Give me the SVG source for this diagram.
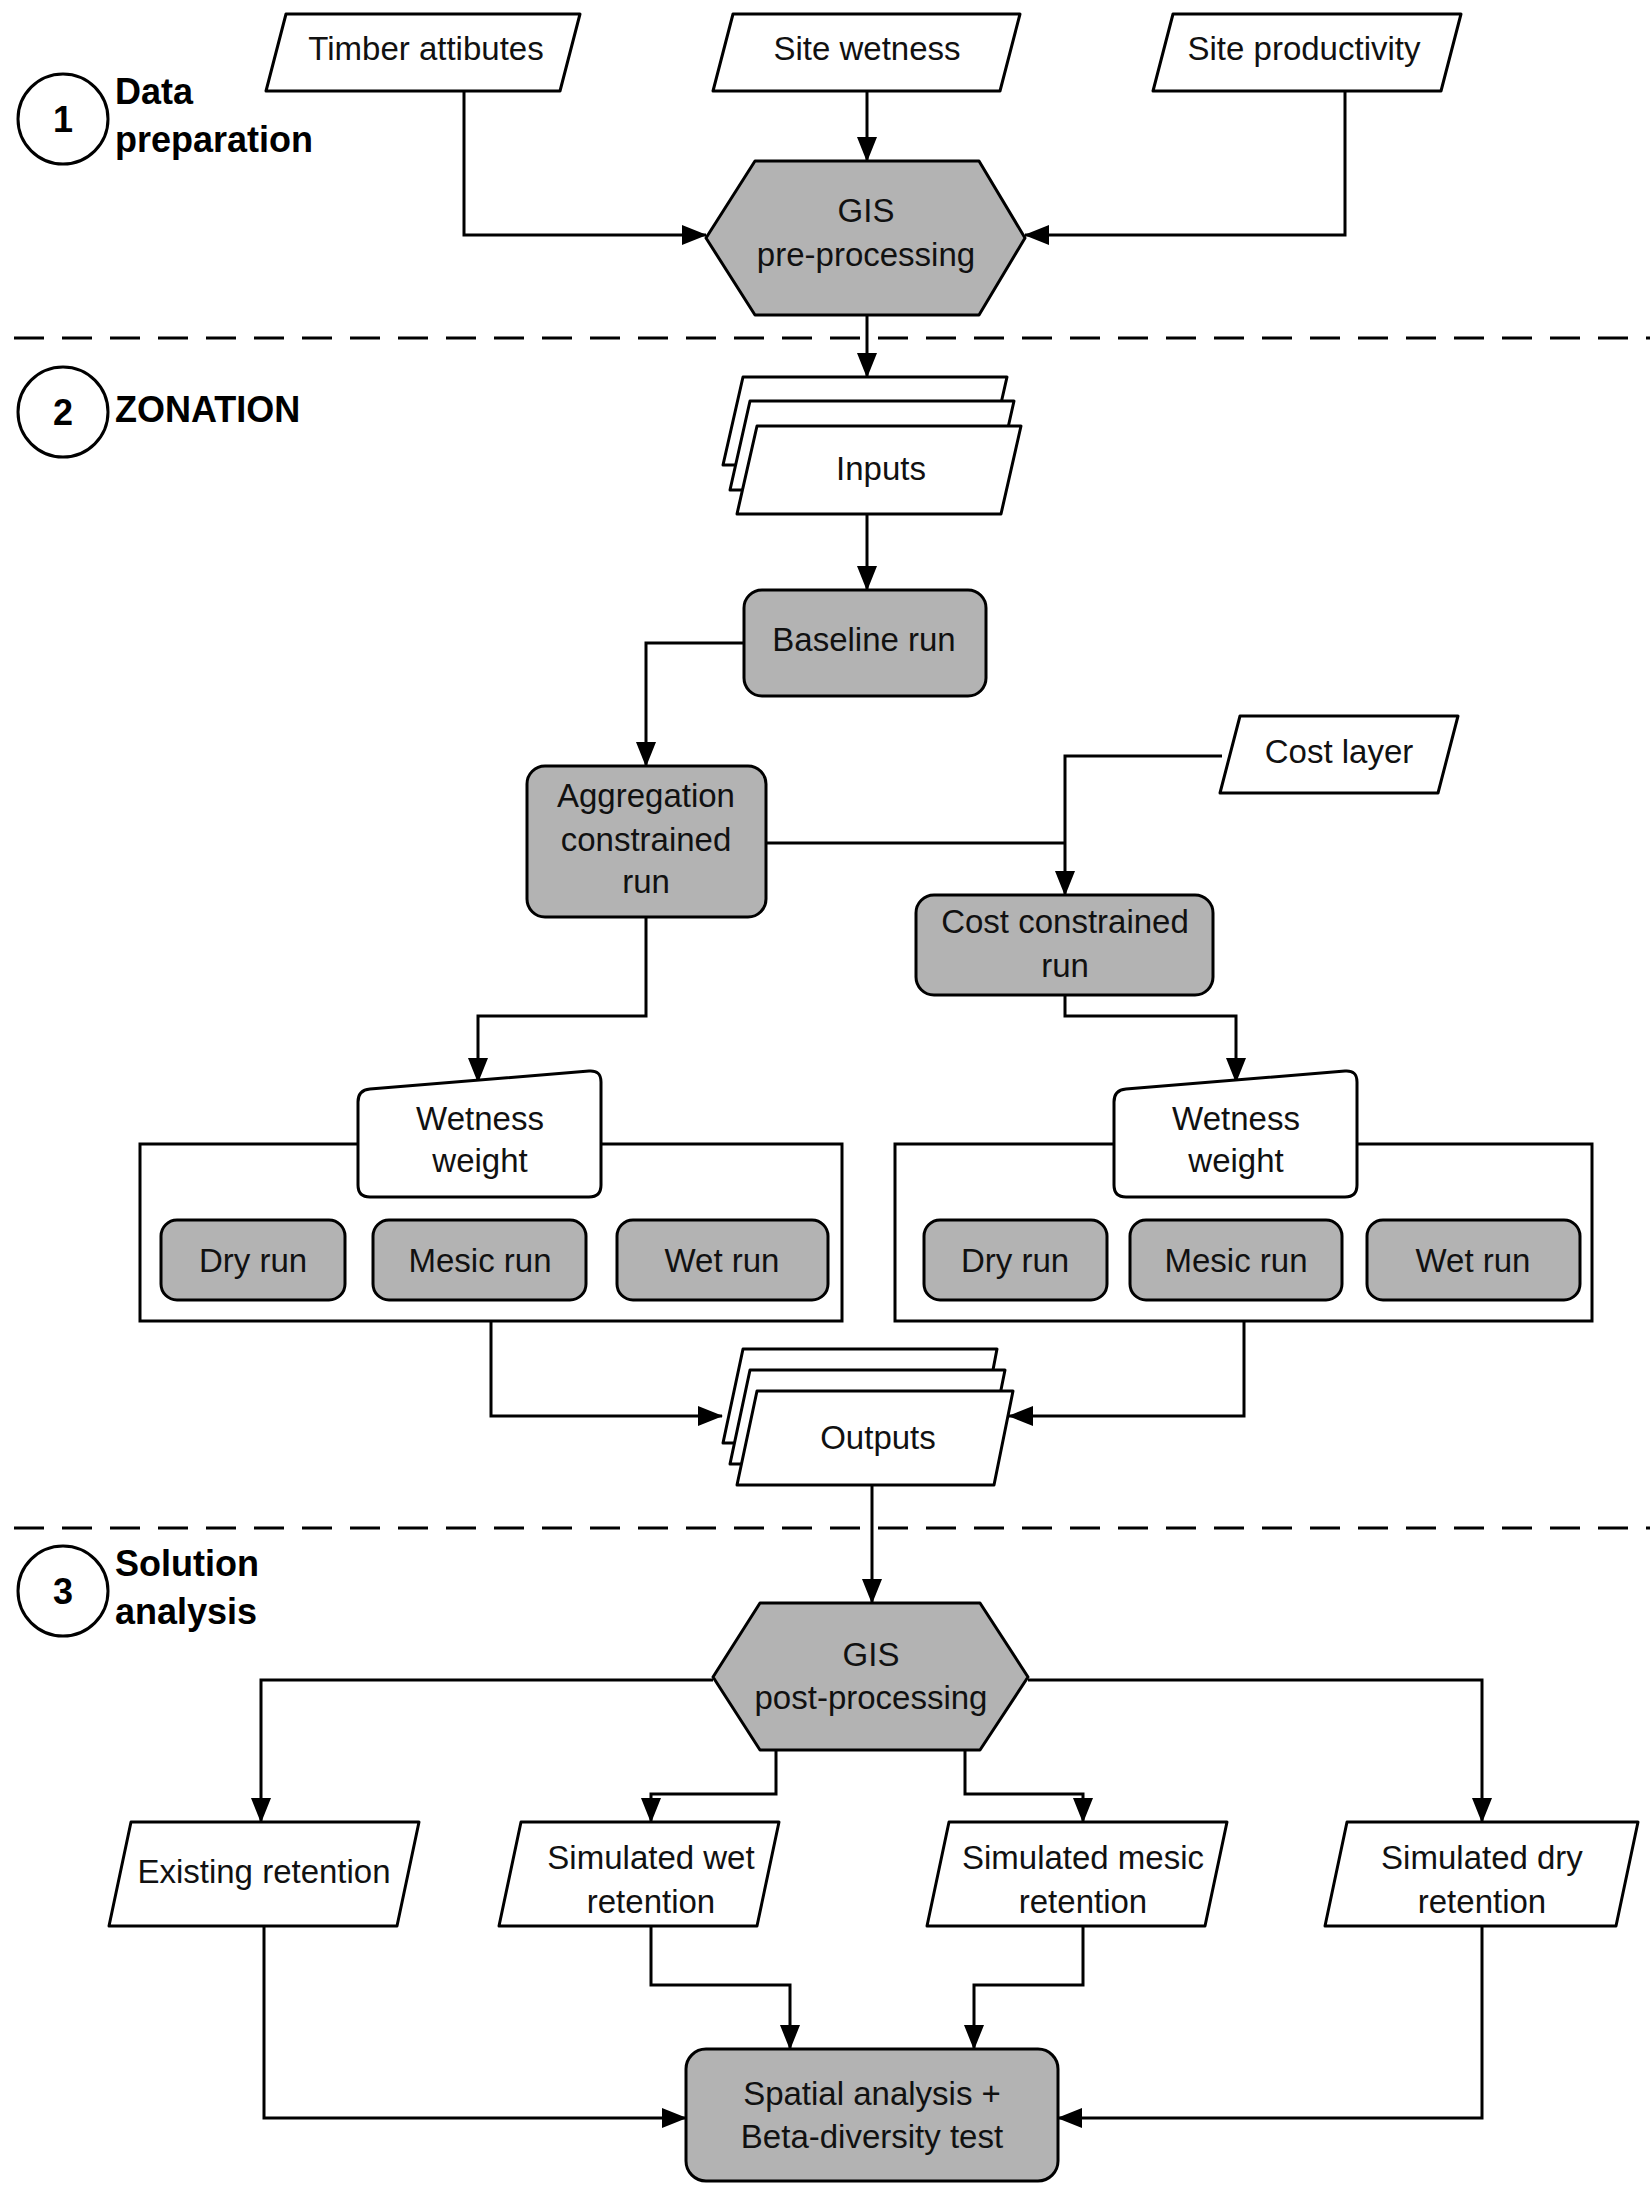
<svg xmlns="http://www.w3.org/2000/svg" width="1650" height="2197" viewBox="0 0 1650 2197">
<style>
.n{fill:#fff;stroke:#000;stroke-width:3;stroke-linejoin:round}
.g{fill:#b3b3b3;stroke:#000;stroke-width:3;stroke-linejoin:round}
.t{font-family:"Liberation Sans",Arial,sans-serif;font-size:33px;fill:#111;text-anchor:middle}
.h{font-family:"Liberation Sans",Arial,sans-serif;font-size:36px;font-weight:bold;fill:#000}
.c{fill:none;stroke:#000;stroke-width:3}
.d{fill:none;stroke:#000;stroke-width:3;stroke-dasharray:30,18}
</style>
<defs>
<marker id="a" markerUnits="userSpaceOnUse" markerWidth="26" markerHeight="20" refX="24" refY="10" orient="auto"><path d="M0,0 L25,10 L0,20 Z" fill="#000"/></marker>
</defs>
<rect width="1650" height="2197" fill="#fff"/>
<g id="sections">
<line class="d" x1="14" y1="338" x2="1650" y2="338"/>
<line class="d" x1="14" y1="1528" x2="1650" y2="1528"/>
<circle class="n" cx="63" cy="119" r="45"/><text class="h" x="63" y="132" text-anchor="middle">1</text>
<text class="h" x="115" y="104">Data</text><text class="h" x="115" y="152">preparation</text>
<circle class="n" cx="63" cy="412" r="45"/><text class="h" x="63" y="425" text-anchor="middle">2</text>
<text class="h" x="115" y="422">ZONATION</text>
<circle class="n" cx="63" cy="1591" r="45"/><text class="h" x="63" y="1604" text-anchor="middle">3</text>
<text class="h" x="115" y="1576">Solution</text><text class="h" x="115" y="1624">analysis</text>
</g>
<g id="connectors">
<path class="c" d="M867,91 V161" marker-end="url(#a)"/>
<path class="c" d="M464,91 V235 H706" marker-end="url(#a)"/>
<path class="c" d="M1345,91 V235 H1025" marker-end="url(#a)"/>
<path class="c" d="M867,315 V377" marker-end="url(#a)"/>
<path class="c" d="M867,514 V590" marker-end="url(#a)"/>
<path class="c" d="M744,643 H646 V766" marker-end="url(#a)"/>
<path class="c" d="M766,843 H1065"/>
<path class="c" d="M1222,756 H1065 V895" marker-end="url(#a)"/>
<path class="c" d="M646,917 V1016 H478 V1082" marker-end="url(#a)"/>
<path class="c" d="M1065,995 V1016 H1236 V1082" marker-end="url(#a)"/>
<path class="c" d="M491,1321 V1416 H722" marker-end="url(#a)"/>
<path class="c" d="M1244,1321 V1416 H1009" marker-end="url(#a)"/>
<path class="c" d="M872,1485 V1603" marker-end="url(#a)"/>
<path class="c" d="M713,1680 H261 V1822" marker-end="url(#a)"/>
<path class="c" d="M1028,1680 H1482 V1822" marker-end="url(#a)"/>
<path class="c" d="M776,1750 V1794 H651 V1822" marker-end="url(#a)"/>
<path class="c" d="M965,1750 V1794 H1083 V1822" marker-end="url(#a)"/>
<path class="c" d="M264,1926 V2118 H686" marker-end="url(#a)"/>
<path class="c" d="M1482,1926 V2118 H1058" marker-end="url(#a)"/>
<path class="c" d="M651,1926 V1985 H790 V2049" marker-end="url(#a)"/>
<path class="c" d="M1083,1926 V1985 H974 V2049" marker-end="url(#a)"/>
</g>
<g id="timber"><path class="n" d="M286,14 H580 L560,91 H266 Z"/><text class="t" x="426" y="60">Timber attibutes</text></g>
<g id="sitewet"><path class="n" d="M733,14 H1020 L1000,91 H713 Z"/><text class="t" x="867" y="60">Site wetness</text></g>
<g id="siteprod"><path class="n" d="M1173,14 H1461 L1441,91 H1153 Z"/><text class="t" x="1304" y="60">Site productivity</text></g>
<g id="gispre"><path class="g" d="M706,238 L755,161 H979 L1025,238 L979,315 H755 Z"/><text class="t" x="866" y="222">GIS</text><text class="t" x="866" y="266">pre-processing</text></g>
<g id="inputs">
<path class="n" d="M743,377 H1007 L987,465 H723 Z"/>
<path class="n" d="M750,401 H1014 L994,490 H730 Z"/>
<path class="n" d="M757,426 H1021 L1001,514 H737 Z"/>
<text class="t" x="881" y="480">Inputs</text></g>
<g id="baseline"><rect class="g" x="744" y="590" width="242" height="106" rx="18"/><text class="t" x="864" y="651">Baseline run</text></g>
<g id="agg"><rect class="g" x="527" y="766" width="239" height="151" rx="18"/><text class="t" x="646" y="807">Aggregation</text><text class="t" x="646" y="851">constrained</text><text class="t" x="646" y="893">run</text></g>
<g id="costlayer"><path class="n" d="M1240,716 H1458 L1438,793 H1220 Z"/><text class="t" x="1339" y="763">Cost layer</text></g>
<g id="costrun"><rect class="g" x="916" y="895" width="297" height="100" rx="18"/><text class="t" x="1065" y="933">Cost constrained</text><text class="t" x="1065" y="977">run</text></g>
<g id="leftgroup">
<rect class="c" x="140" y="1144" width="702" height="177"/>
<path class="n" d="M358,1102 Q358,1090 370,1089 L589,1071 Q601,1070 601,1082 V1185 Q601,1197 589,1197 H370 Q358,1197 358,1185 Z"/>
<text class="t" x="480" y="1130">Wetness</text><text class="t" x="480" y="1172">weight</text>
<rect class="g" x="161" y="1220" width="184" height="80" rx="16"/><text class="t" x="253" y="1272">Dry run</text>
<rect class="g" x="373" y="1220" width="213" height="80" rx="16"/><text class="t" x="480" y="1272">Mesic run</text>
<rect class="g" x="617" y="1220" width="211" height="80" rx="16"/><text class="t" x="722" y="1272">Wet run</text>
</g>
<g id="rightgroup">
<rect class="c" x="895" y="1144" width="697" height="177"/>
<path class="n" d="M1114,1102 Q1114,1090 1126,1089 L1345,1071 Q1357,1070 1357,1082 V1185 Q1357,1197 1345,1197 H1126 Q1114,1197 1114,1185 Z"/>
<text class="t" x="1236" y="1130">Wetness</text><text class="t" x="1236" y="1172">weight</text>
<rect class="g" x="924" y="1220" width="183" height="80" rx="16"/><text class="t" x="1015" y="1272">Dry run</text>
<rect class="g" x="1130" y="1220" width="212" height="80" rx="16"/><text class="t" x="1236" y="1272">Mesic run</text>
<rect class="g" x="1367" y="1220" width="213" height="80" rx="16"/><text class="t" x="1473" y="1272">Wet run</text>
</g>
<g id="outputs">
<path class="n" d="M743,1349 H997 L979,1443 H723 Z"/>
<path class="n" d="M750,1370 H1005 L986,1464 H730 Z"/>
<path class="n" d="M757,1391 H1013 L994,1485 H737 Z"/>
<text class="t" x="878" y="1449">Outputs</text></g>
<g id="gispost"><path class="g" d="M713,1677 L760,1603 H980 L1028,1677 L980,1750 H760 Z"/><text class="t" x="871" y="1666">GIS</text><text class="t" x="871" y="1709">post-processing</text></g>
<g id="existing"><path class="n" d="M131,1822 H419 L397,1926 H109 Z"/><text class="t" x="264" y="1883">Existing retention</text></g>
<g id="simwet"><path class="n" d="M521,1822 H779 L757,1926 H499 Z"/><text class="t" x="651" y="1869">Simulated wet</text><text class="t" x="651" y="1913">retention</text></g>
<g id="simmesic"><path class="n" d="M949,1822 H1227 L1205,1926 H927 Z"/><text class="t" x="1083" y="1869">Simulated mesic</text><text class="t" x="1083" y="1913">retention</text></g>
<g id="simdry"><path class="n" d="M1347,1822 H1638 L1616,1926 H1325 Z"/><text class="t" x="1482" y="1869">Simulated dry</text><text class="t" x="1482" y="1913">retention</text></g>
<g id="spatial"><rect class="g" x="686" y="2049" width="372" height="132" rx="20"/><text class="t" x="872" y="2105">Spatial analysis +</text><text class="t" x="872" y="2148">Beta-diversity test</text></g>
</svg>
